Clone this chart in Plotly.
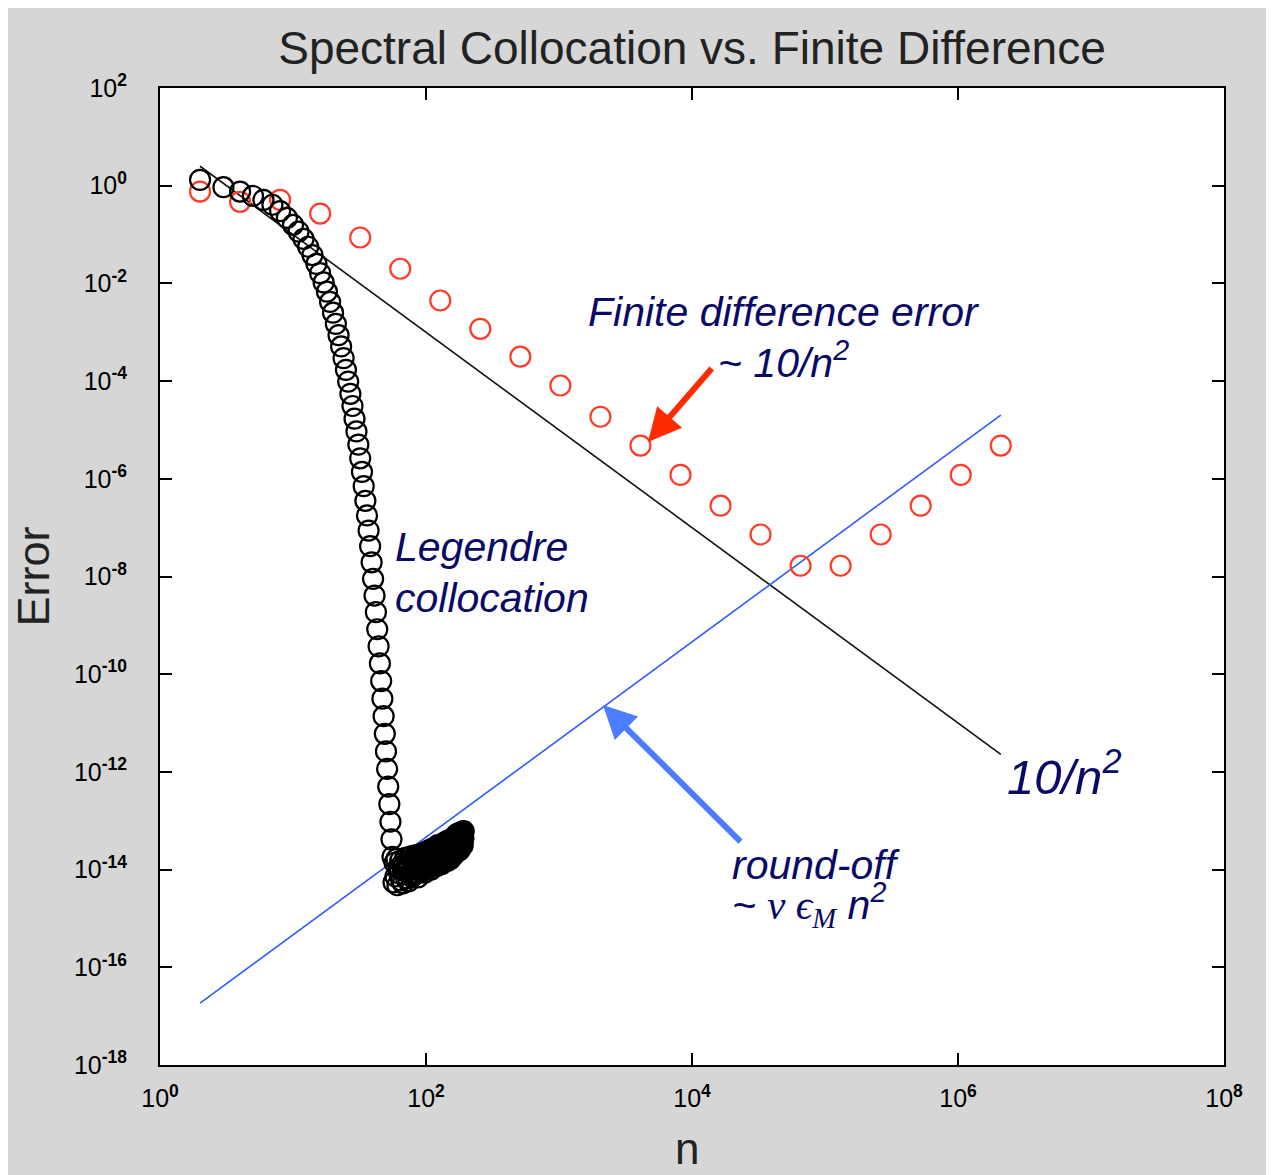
import plotly.graph_objects as go

# ---------------- data ----------------
# Finite-difference error (red circles), n = 2^k
fd_n = [2, 4, 8, 16, 32, 64, 128, 256, 512, 1024, 2048, 4096, 8192, 16384,
        32768, 65536, 131072, 262144, 524288, 1048576, 2097152]
fd_log10_err = [-0.12, -0.33, -0.29, -0.57, -1.06, -1.70, -2.35, -2.93, -3.50,
                -4.09, -4.73, -5.32, -5.92, -6.55, -7.14, -7.78, -7.78, -7.14,
                -6.55, -5.92, -5.32]

# Legendre collocation error (black circles): decay part, n = 2..56
leg_n_decay = list(range(2, 57))
leg_log10_decay = [0.12, -0.03, -0.12, -0.21, -0.29, -0.39, -0.52, -0.66, -0.80,
                   -0.94, -1.09, -1.25, -1.42, -1.60, -1.79, -1.98, -2.17, -2.38,
                   -2.60, -2.83, -3.06, -3.29, -3.53, -3.77, -4.01, -4.26, -4.51,
                   -4.77, -5.03, -5.30, -5.58, -5.86, -6.15, -6.45, -6.75, -7.06,
                   -7.38, -7.71, -8.05, -8.39, -8.73, -9.08, -9.43, -9.78, -10.14,
                   -10.50, -10.86, -11.22, -11.58, -11.94, -12.30, -12.66, -13.02,
                   -13.38, -13.74]

# Legendre collocation error: round-off plateau, n = 57..192
leg_n_plateau = list(range(57, 193))
leg_log10_plateau = [
    -14.26, -13.86, -14.14, -13.78, -14.32, -13.97, -14.08, -13.82, -14.22, -13.93, -14.28, -13.84,
    -14.03, -13.76, -14.18, -13.94, -13.82, -14.24, -13.90, -14.09, -13.73, -14.15, -13.96, -13.79,
    -14.12, -13.87, -13.71, -14.07, -13.91, -13.78, -14.16, -13.83, -13.97, -13.69, -14.04, -13.88,
    -13.77, -14.00, -13.66, -13.93, -13.82, -14.06, -13.73, -13.90, -13.63, -13.97, -13.79, -13.70,
    -13.95, -13.60, -13.86, -13.77, -14.00, -13.67, -13.81, -13.57, -13.92, -13.73, -13.64, -13.88,
    -13.55, -13.79, -13.70, -13.93, -13.58, -13.83, -13.50, -13.76, -13.86, -13.61, -13.71, -13.53,
    -13.81, -13.56, -13.89, -13.66, -13.48, -13.76, -13.56, -13.84, -13.45, -13.70, -13.61, -13.79,
    -13.50, -13.73, -13.42, -13.65, -13.82, -13.54, -13.61, -13.40, -13.75, -13.52, -13.68, -13.45,
    -13.78, -13.40, -13.59, -13.48, -13.71, -13.37, -13.64, -13.52, -13.42, -13.70, -13.38, -13.56,
    -13.40, -13.63, -13.30, -13.52, -13.35, -13.58, -13.28, -13.47, -13.37, -13.56, -13.26, -13.43,
    -13.52, -13.30, -13.60, -13.27, -13.43, -13.34, -13.55, -13.24, -13.47, -13.30, -13.40, -13.22,
    -13.50, -13.26, -13.36, -13.21]

# Reference lines
ref_n = [2, 2097152]
ref_err = [10.0 / n ** 2 for n in ref_n]          # 10/n^2
roundoff_n = [2, 2097152]
roundoff_err = [1.84e-17, 2.02e-5]                # ~ nu eps_M n^2

# Tick labels
x_tickvals = [1e0, 1e2, 1e4, 1e6, 1e8]
x_ticktext = ["10<sup><b>0</b></sup>", "10<sup><b>2</b></sup>", "10<sup><b>4</b></sup>",
              "10<sup><b>6</b></sup>", "10<sup><b>8</b></sup>"]
y_exps = [2, 0, -2, -4, -6, -8, -10, -12, -14, -16, -18]
y_tickvals = [10.0 ** e for e in y_exps]
y_ticktext = ["10<sup><b>%d</b></sup>" % e for e in y_exps]

# ---------------- figure ----------------
W, H = 1266, 1167
ML, MT, PW, PH = 152, 80, 1064, 977
MR = W - ML - PW
MB = H - MT - PH

fig = go.Figure()

fig.add_trace(go.Scatter(x=ref_n, y=ref_err, mode="lines",
                         line=dict(color="#111111", width=1.6), showlegend=False))
fig.add_trace(go.Scatter(x=roundoff_n, y=roundoff_err, mode="lines",
                         line=dict(color="#2f5bff", width=1.6), showlegend=False))
fig.add_trace(go.Scatter(x=fd_n, y=[10 ** v for v in fd_log10_err], mode="markers",
                         marker=dict(symbol="circle-open", size=20, color="#ff3b2a",
                                     line=dict(width=2.2, color="#ff3b2a")),
                         showlegend=False))
fig.add_trace(go.Scatter(x=leg_n_decay + leg_n_plateau,
                         y=[10 ** v for v in leg_log10_decay + leg_log10_plateau],
                         mode="markers",
                         marker=dict(symbol="circle-open", size=20, color="black",
                                     line=dict(width=2.2, color="black")),
                         showlegend=False))

FONT = "Liberation Sans, Arial, sans-serif"
NAVY = "#0a0a66"


def px(xp):
    return (xp - 160) / PW


def py(yp):
    return (1065 - yp) / PH


ann = []


def text_ann(txt, xp, yp, size):
    ann.append(dict(text=txt, x=px(xp), y=py(yp), xref="paper", yref="paper",
                    xanchor="left", yanchor="middle", showarrow=False,
                    font=dict(family=FONT, size=size, color=NAVY, style="italic")))


text_ann("Finite difference error", 586, 312, 41)
text_ann("~ 10/n<sup>2</sup>", 716, 360, 41)
text_ann("Legendre", 393, 547, 41)
text_ann("collocation", 393, 598, 41)
text_ann("10/n<sup>2</sup>", 1005, 773, 49)
text_ann("round-off", 730, 865, 41)
text_ann("~ <span style='font-family:\"Liberation Serif\", serif'>ν ϵ<sub>M</sub></span> n<sup>2</sup>",
         730, 905, 41)

# arrows
ann.append(dict(text="", x=px(648), y=py(442), xref="paper", yref="paper",
                showarrow=True, ax=713 - 648, ay=367 - 442,
                arrowcolor="#ff2a00", arrowwidth=6, arrowhead=2, arrowsize=1.1,
                standoff=0, startstandoff=0))
ann.append(dict(text="", x=px(603), y=py(705), xref="paper", yref="paper",
                showarrow=True, ax=742 - 603, ay=843 - 705,
                arrowcolor="#4a7dff", arrowwidth=6, arrowhead=2, arrowsize=1.1,
                standoff=0, startstandoff=0))

# x-axis title "n"
ann.append(dict(text="n", x=px(687), y=py(1148), xref="paper", yref="paper",
                xanchor="center", yanchor="middle", showarrow=False,
                font=dict(family=FONT, size=44, color="#222222")))

axis_common = dict(type="log", showgrid=False, zeroline=False, showline=True,
                   linecolor="black", linewidth=2, mirror="ticks", ticks="inside",
                   ticklen=12, tickwidth=2, tickcolor="black", automargin=False,
                   tickfont=dict(family=FONT, size=25, color="black"))

fig.update_layout(
    width=W, height=H,
    margin=dict(l=ML, r=MR, t=MT, b=MB, pad=0, autoexpand=False),
    paper_bgcolor="#d6d6d6", plot_bgcolor="white",
    title=dict(text="Spectral Collocation vs. Finite Difference",
               x=0.5, xref="paper", xanchor="center",
               y=1 - 40 / H, yref="container", yanchor="middle",
               font=dict(family=FONT, size=46, color="#222222")),
    xaxis=dict(axis_common, range=[0, 8], tickvals=x_tickvals, ticktext=x_ticktext,
               ticklabelstandoff=10),
    yaxis=dict(axis_common, range=[-18, 2], tickvals=y_tickvals, ticktext=y_ticktext,
               ticklabelstandoff=26,
               title=dict(text="Error", font=dict(family=FONT, size=45, color="#222222"),
                          standoff=24)),
    annotations=ann,
)

fig.write_html("out.html")
